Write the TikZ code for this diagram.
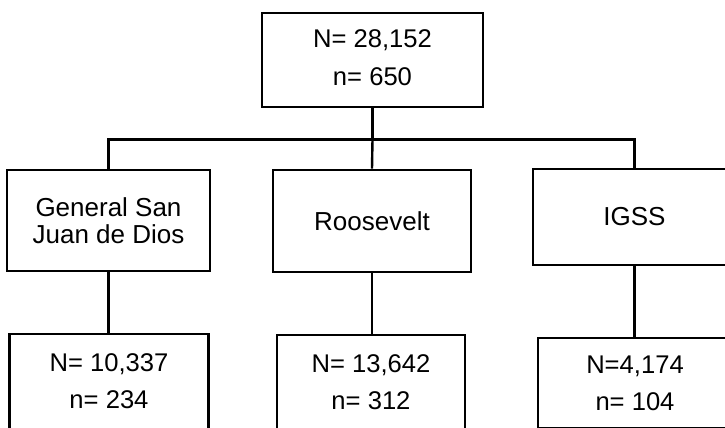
\documentclass[tikz,border=0pt]{standalone}
\usepackage{fontspec}
\setmainfont{Liberation Sans}
\begin{document}
\begin{tikzpicture}[x=1pt,y=-1pt,
  boxshape/.style={draw=black, line width=2.6pt, inner sep=0pt, align=center},
  numbox/.style={boxshape, font=\fontsize{25.6}{37.2}\selectfont},
  namebox/.style={boxshape, font=\fontsize{26}{26.7}\selectfont},
  link/.style={draw=black, line width=2.4pt}]
\useasboundingbox (0,0) rectangle (725,428);
\fill[white] (0,0) rectangle (725,428);
\clip (0,0) rectangle (725,428);

\node[numbox, minimum width=221pt, minimum height=94pt] (top) at (372.5,60) {N= 28,152\\n= 650\rule[-5pt]{0pt}{0pt}};

\node[namebox, minimum width=203pt, minimum height=101pt] (gen) at (108.5,220.5) {General San\\Juan de Dios};
\node[namebox, minimum width=198pt, minimum height=102pt] (roo) at (372,221) {Roosevelt};
\node[namebox, minimum width=203pt, minimum height=96pt] (igss) at (634.5,217) {IGSS};

\node[numbox, minimum width=199pt, minimum height=95pt] (b1) at (109,381.5) {N= 10,337\\n= 234};
\node[numbox, minimum width=188pt, minimum height=94pt] (b2) at (371,382) {N= 13,642\\n= 312};
\node[numbox, minimum width=194pt, minimum height=90pt] (b3) at (635,383) {N=4,174\\n= 104};

\draw[link] (top.south) -- ++(0,31) coordinate (hub);
\draw[link] (gen.north) |- (hub) -| (igss.north);
\draw[link] (hub) -- (roo.north);

\draw[link] (gen.south) -- (gen.south |- b1.north);
\draw[link] (roo.south) -- (roo.south |- b2.north);
\draw[link] (igss.south) -- (igss.south |- b3.north);
\end{tikzpicture}
\end{document}
